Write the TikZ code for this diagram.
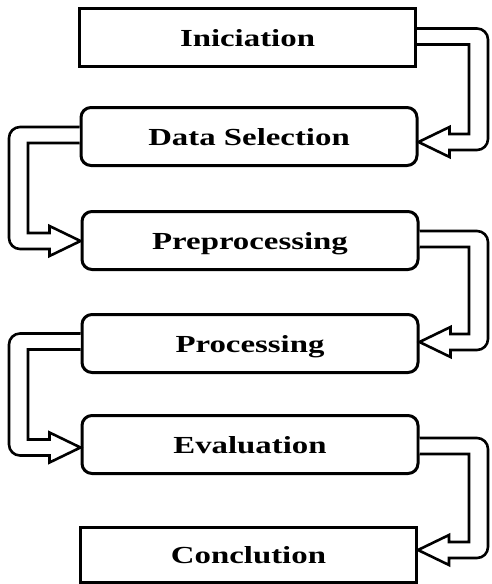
\documentclass[tikz,border=0pt]{standalone}
\usepackage{fontspec}
\usepackage{graphicx}
\setmainfont{Liberation Serif}
\usetikzlibrary{calc}

% wide bold label text
\newcommand\steplabel[1]{\scalebox{1.34}[1]{\bfseries #1}}

\tikzset{
  stagebox/.style={draw, line width=3pt, minimum width=336pt, minimum height=58pt,
    inner sep=0pt, fill=white, font=\fontsize{24.5pt}{26pt}\selectfont,
    text height=17pt, text depth=0pt},
  roundstage/.style={stagebox, rounded corners=10pt},
  flowarrow/.style={draw, line width=2.6pt, line join=miter, fill=white},
}

% hollow block arrow on the right side: source, target, exit shift, entry shift
\newcommand\flowright[4]{%
  \draw[flowarrow] let \p1=(#1.east), \p2=(#2.east),
      \n1={\y1+#3}, \n2={\y2+#4} in
    (\x1, \n1+8pt) -- (477pt, \n1+8pt)
    arc[start angle=90, end angle=0, radius=11pt]
    -- (488pt, \n2-8pt+11pt)
    arc[start angle=0, end angle=-90, radius=11pt]
    -- (\x2+31pt, \n2-8pt) -- (\x2+31pt, \n2-15pt) -- (\x2, \n2)
    -- (\x2+31pt, \n2+15pt) -- (\x2+31pt, \n2+8pt)
    -- (469pt, \n2+8pt) -- (469pt, \n1-8pt) -- (\x1, \n1-8pt);
}
% hollow block arrow on the left side
\newcommand\flowleft[4]{%
  \draw[flowarrow] let \p1=(#1.west), \p2=(#2.west),
      \n1={\y1+#3}, \n2={\y2+#4} in
    (\x1, \n1+8pt) -- (20pt, \n1+8pt)
    arc[start angle=90, end angle=180, radius=11pt]
    -- (9pt, \n2-8pt+11pt)
    arc[start angle=180, end angle=270, radius=11pt]
    -- (\x2-31pt, \n2-8pt) -- (\x2-31pt, \n2-15pt) -- (\x2, \n2)
    -- (\x2-31pt, \n2+15pt) -- (\x2-31pt, \n2+8pt)
    -- (28pt, \n2+8pt) -- (28pt, \n1-8pt) -- (\x1, \n1-8pt);
}

\begin{document}
\begin{tikzpicture}[x=1pt, y=-1pt]
  \useasboundingbox (0,0) rectangle (491,584);

  \node[stagebox]   (init) at (247.5, 37.5) {\steplabel{Iniciation}};
  \node[roundstage] (sel)  at (249, 136.5) {\steplabel{Data Selection}};
  \node[roundstage] (pre)  at (250, 240.5) {\steplabel{Preprocessing}};
  \node[roundstage] (proc) at (250, 343.5) {\steplabel{Processing}};
  \node[roundstage] (eval) at (250, 444.5) {\steplabel{Evaluation}};
  \node[stagebox, minimum height=55pt] (conc) at (248.5, 555) {\steplabel{Conclution}};

  \flowright{init}{sel}{1pt}{-5.5pt}
  \flowleft{sel}{pre}{1.5pt}{-0.5pt}
  \flowright{pre}{proc}{1.5pt}{1.5pt}
  \flowleft{proc}{eval}{2pt}{-3pt}
  \flowright{eval}{conc}{-1.5pt}{5pt}
\end{tikzpicture}
\end{document}
